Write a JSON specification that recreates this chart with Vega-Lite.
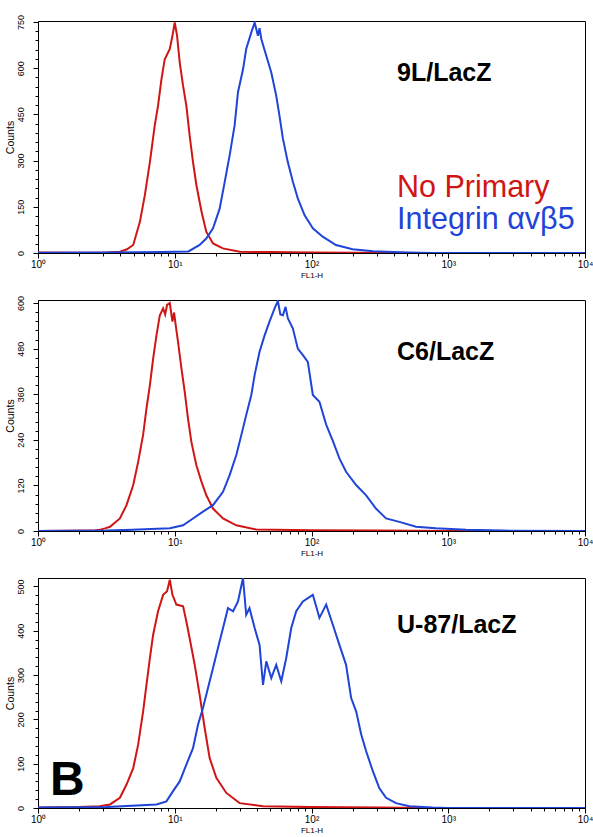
{
  "$schema": "https://vega.github.io/schema/vega-lite/v6.json",
  "background": "white",
  "padding": {"left": 4, "top": 13, "right": 0, "bottom": 0},
  "config": {
    "view": {"stroke": "black", "strokeWidth": 1},
    "font": "Liberation Sans",
    "axis": {"grid": false, "domainColor": "black", "tickColor": "black", "labelColor": "black", "titleColor": "black", "labelFont": "Liberation Sans", "titleFont": "Liberation Sans", "titleFontWeight": "normal"}
  },
  "datasets": {
    "p1": [
      {"series":"np","fl1":1,"count":2},{"series":"np","fl1":2,"count":1},{"series":"np","fl1":3.16,"count":2},{"series":"np","fl1":3.98,"count":4},{"series":"np","fl1":4.47,"count":12},{"series":"np","fl1":4.97,"count":26},{"series":"np","fl1":5.56,"count":101},{"series":"np","fl1":6.04,"count":187},{"series":"np","fl1":6.58,"count":295},{"series":"np","fl1":7.14,"count":414},{"series":"np","fl1":7.55,"count":478},{"series":"np","fl1":8.0,"count":565},{"series":"np","fl1":8.45,"count":629},{"series":"np","fl1":9.2,"count":662},{"series":"np","fl1":9.62,"count":705},{"series":"np","fl1":10,"count":748},{"series":"np","fl1":10.4,"count":705},{"series":"np","fl1":10.87,"count":619},{"series":"np","fl1":11.5,"count":543},{"series":"np","fl1":12.16,"count":478},{"series":"np","fl1":12.85,"count":381},{"series":"np","fl1":13.6,"count":295},{"series":"np","fl1":14.4,"count":220},{"series":"np","fl1":15.7,"count":134},{"series":"np","fl1":17,"count":69},{"series":"np","fl1":19.05,"count":31},{"series":"np","fl1":22.5,"count":15},{"series":"np","fl1":29.8,"count":4},{"series":"np","fl1":50,"count":3},{"series":"np","fl1":100,"count":2},{"series":"np","fl1":200,"count":1},{"series":"np","fl1":400,"count":1},{"series":"np","fl1":630,"count":0},{"series":"np","fl1":10000,"count":0},
      {"series":"ib","fl1":1,"count":1},{"series":"ib","fl1":3.16,"count":2},{"series":"ib","fl1":7.94,"count":3},{"series":"ib","fl1":12.6,"count":5},{"series":"ib","fl1":15.2,"count":26},{"series":"ib","fl1":17,"count":47},{"series":"ib","fl1":19.05,"count":80},{"series":"ib","fl1":21.3,"count":144},{"series":"ib","fl1":23.2,"count":231},{"series":"ib","fl1":25.2,"count":317},{"series":"ib","fl1":27.4,"count":414},{"series":"ib","fl1":29,"count":522},{"series":"ib","fl1":31.6,"count":597},{"series":"ib","fl1":33.3,"count":662},{"series":"ib","fl1":36.3,"count":716},{"series":"ib","fl1":38.4,"count":748},{"series":"ib","fl1":40.6,"count":705},{"series":"ib","fl1":41.7,"count":730},{"series":"ib","fl1":43,"count":694},{"series":"ib","fl1":46.7,"count":640},{"series":"ib","fl1":50.8,"count":586},{"series":"ib","fl1":55.2,"count":511},{"series":"ib","fl1":58.3,"count":446},{"series":"ib","fl1":61.8,"count":371},{"series":"ib","fl1":67.1,"count":295},{"series":"ib","fl1":73.1,"count":231},{"series":"ib","fl1":79.4,"count":177},{"series":"ib","fl1":88.9,"count":123},{"series":"ib","fl1":102.3,"count":80},{"series":"ib","fl1":120.8,"count":53},{"series":"ib","fl1":151,"count":26},{"series":"ib","fl1":200,"count":12},{"series":"ib","fl1":282,"count":6},{"series":"ib","fl1":500,"count":2},{"series":"ib","fl1":794,"count":0},{"series":"ib","fl1":10000,"count":0}
    ],
    "p2": [
      {"series":"np","fl1":1,"count":0},{"series":"np","fl1":2.51,"count":1},{"series":"np","fl1":2.82,"count":3},{"series":"np","fl1":3.09,"count":7},{"series":"np","fl1":3.36,"count":11},{"series":"np","fl1":3.97,"count":33},{"series":"np","fl1":4.44,"count":68},{"series":"np","fl1":4.97,"count":121},{"series":"np","fl1":5.4,"count":182},{"series":"np","fl1":5.87,"count":253},{"series":"np","fl1":6.21,"count":322},{"series":"np","fl1":6.58,"count":384},{"series":"np","fl1":6.95,"count":454},{"series":"np","fl1":7.35,"count":515},{"series":"np","fl1":7.78,"count":568},{"series":"np","fl1":8.22,"count":586},{"series":"np","fl1":8.51,"count":570},{"series":"np","fl1":8.79,"count":595},{"series":"np","fl1":9.2,"count":600},{"series":"np","fl1":9.62,"count":551},{"series":"np","fl1":9.89,"count":575},{"series":"np","fl1":10.16,"count":542},{"series":"np","fl1":10.57,"count":498},{"series":"np","fl1":11.19,"count":428},{"series":"np","fl1":11.83,"count":366},{"series":"np","fl1":12.5,"count":296},{"series":"np","fl1":13.24,"count":234},{"series":"np","fl1":14.39,"count":173},{"series":"np","fl1":15.67,"count":130},{"series":"np","fl1":17.02,"count":94},{"series":"np","fl1":19.05,"count":59},{"series":"np","fl1":22.54,"count":33},{"series":"np","fl1":28.18,"count":15},{"series":"np","fl1":39.45,"count":4},{"series":"np","fl1":100,"count":2},{"series":"np","fl1":316,"count":1},{"series":"np","fl1":1000,"count":0},{"series":"np","fl1":10000,"count":0},
      {"series":"ib","fl1":1,"count":0},{"series":"ib","fl1":3.16,"count":1},{"series":"ib","fl1":4.9,"count":3},{"series":"ib","fl1":9.2,"count":7},{"series":"ib","fl1":11.5,"count":15},{"series":"ib","fl1":13.6,"count":33},{"series":"ib","fl1":16.1,"count":51},{"series":"ib","fl1":19.05,"count":68},{"series":"ib","fl1":22.54,"count":103},{"series":"ib","fl1":25.2,"count":147},{"series":"ib","fl1":28.2,"count":200},{"series":"ib","fl1":30.7,"count":253},{"series":"ib","fl1":33.3,"count":305},{"series":"ib","fl1":36.3,"count":358},{"series":"ib","fl1":38.4,"count":411},{"series":"ib","fl1":41.7,"count":472},{"series":"ib","fl1":45.4,"count":515},{"series":"ib","fl1":49.3,"count":551},{"series":"ib","fl1":53.7,"count":586},{"series":"ib","fl1":56.8,"count":605},{"series":"ib","fl1":59.2,"count":570},{"series":"ib","fl1":61.8,"count":568},{"series":"ib","fl1":64.6,"count":590},{"series":"ib","fl1":67.1,"count":560},{"series":"ib","fl1":73.1,"count":533},{"series":"ib","fl1":79.4,"count":480},{"series":"ib","fl1":86.5,"count":463},{"series":"ib","fl1":94,"count":445},{"series":"ib","fl1":102.3,"count":358},{"series":"ib","fl1":114.3,"count":340},{"series":"ib","fl1":128,"count":280},{"series":"ib","fl1":143,"count":238},{"series":"ib","fl1":160,"count":191},{"series":"ib","fl1":179,"count":156},{"series":"ib","fl1":212,"count":121},{"series":"ib","fl1":251,"count":94},{"series":"ib","fl1":296,"count":59},{"series":"ib","fl1":351,"count":33},{"series":"ib","fl1":439,"count":24},{"series":"ib","fl1":581,"count":11},{"series":"ib","fl1":813,"count":7},{"series":"ib","fl1":1349,"count":3},{"series":"ib","fl1":2512,"count":1},{"series":"ib","fl1":10000,"count":0}
    ],
    "p3": [
      {"series":"np","fl1":1,"count":1},{"series":"np","fl1":2,"count":2},{"series":"np","fl1":2.82,"count":4},{"series":"np","fl1":3.36,"count":8},{"series":"np","fl1":3.97,"count":23},{"series":"np","fl1":4.44,"count":53},{"series":"np","fl1":4.97,"count":90},{"series":"np","fl1":5.4,"count":143},{"series":"np","fl1":5.87,"count":218},{"series":"np","fl1":6.21,"count":278},{"series":"np","fl1":6.58,"count":338},{"series":"np","fl1":6.95,"count":391},{"series":"np","fl1":7.55,"count":444},{"series":"np","fl1":8.22,"count":481},{"series":"np","fl1":8.79,"count":489},{"series":"np","fl1":9.2,"count":515},{"series":"np","fl1":9.62,"count":481},{"series":"np","fl1":10.28,"count":459},{"series":"np","fl1":11.51,"count":455},{"series":"np","fl1":12.16,"count":421},{"series":"np","fl1":12.85,"count":383},{"series":"np","fl1":14,"count":323},{"series":"np","fl1":15.2,"count":256},{"series":"np","fl1":16.56,"count":180},{"series":"np","fl1":17.99,"count":113},{"series":"np","fl1":20.14,"count":68},{"series":"np","fl1":23.82,"count":34},{"series":"np","fl1":29.8,"count":11},{"series":"np","fl1":44.2,"count":4},{"series":"np","fl1":100,"count":2},{"series":"np","fl1":316,"count":1},{"series":"np","fl1":631,"count":0},{"series":"np","fl1":10000,"count":0},
      {"series":"ib","fl1":1,"count":1},{"series":"ib","fl1":3.16,"count":2},{"series":"ib","fl1":7.35,"count":8},{"series":"ib","fl1":8.69,"count":15},{"series":"ib","fl1":9.72,"count":38},{"series":"ib","fl1":10.87,"count":60},{"series":"ib","fl1":12.16,"count":98},{"series":"ib","fl1":13.6,"count":135},{"series":"ib","fl1":14.79,"count":188},{"series":"ib","fl1":16.1,"count":226},{"series":"ib","fl1":17.5,"count":271},{"series":"ib","fl1":19.05,"count":316},{"series":"ib","fl1":20.7,"count":361},{"series":"ib","fl1":22.54,"count":406},{"series":"ib","fl1":24.5,"count":451},{"series":"ib","fl1":26.7,"count":444},{"series":"ib","fl1":29,"count":466},{"series":"ib","fl1":31.55,"count":519},{"series":"ib","fl1":33.3,"count":436},{"series":"ib","fl1":35.2,"count":451},{"series":"ib","fl1":38.4,"count":406},{"series":"ib","fl1":41.7,"count":368},{"series":"ib","fl1":44.2,"count":278},{"series":"ib","fl1":46.7,"count":331},{"series":"ib","fl1":50.8,"count":293},{"series":"ib","fl1":55.2,"count":323},{"series":"ib","fl1":60.1,"count":286},{"series":"ib","fl1":65.3,"count":338},{"series":"ib","fl1":71.1,"count":406},{"series":"ib","fl1":77.3,"count":444},{"series":"ib","fl1":86.5,"count":466},{"series":"ib","fl1":102.3,"count":481},{"series":"ib","fl1":114.3,"count":429},{"series":"ib","fl1":128,"count":459},{"series":"ib","fl1":143,"count":414},{"series":"ib","fl1":160,"count":368},{"series":"ib","fl1":179,"count":323},{"series":"ib","fl1":195,"count":248},{"series":"ib","fl1":212,"count":218},{"series":"ib","fl1":231,"count":166},{"series":"ib","fl1":251,"count":128},{"series":"ib","fl1":281,"count":83},{"series":"ib","fl1":313,"count":45},{"series":"ib","fl1":351,"count":23},{"series":"ib","fl1":415,"count":11},{"series":"ib","fl1":519,"count":4},{"series":"ib","fl1":767,"count":1},{"series":"ib","fl1":1000,"count":0},{"series":"ib","fl1":10000,"count":0}
    ]
  },
  "bounds": "flush",
  "spacing": 47,
  "vconcat": [
    {
      "width": 547, "height": 232,
      "resolve": {"axis": {"y": "independent"}},
      "layer": [
        {
          "data": {"name": "p1"},
          "mark": {"type": "line", "strokeWidth": 2, "clip": true},
          "encoding": {
            "x": {"field": "fl1", "type": "quantitative", "scale": {"type": "log", "domain": [1, 10000]},
              "axis": {"title": "FL1-H", "titleFontSize": 8, "titlePadding": 2, "values": [1,2,3,4,5,6,7,8,9,10,20,30,40,50,60,70,80,90,100,200,300,400,500,600,700,800,900,1000,2000,3000,4000,5000,6000,7000,8000,9000,10000],
                "labelExpr": "datum.value == 1 ? '10⁰' : datum.value == 10 ? '10¹' : datum.value == 100 ? '10²' : datum.value == 1000 ? '10³' : datum.value == 10000 ? '10⁴' : ''",
                "labelFontSize": 10, "labelFlush": false, "labelOverlap": false, "labelPadding": 1,
                "tickSize": {"condition": {"test": "indexof([1,10,100,1000,10000], datum.value) >= 0", "value": 5}, "value": 3}}},
            "y": {"field": "count", "type": "quantitative", "scale": {"domain": [0, 753], "nice": false},
              "axis": {"orient": "left", "title": "Counts", "titleFontSize": 10.5, "titlePadding": 1, "values": [0,150,300,450,600,750],
                "labelAngle": -90, "labelAlign": "center", "labelBaseline": "bottom", "labelFontSize": 9, "labelOverlap": false, "labelPadding": 8, "tickSize": 5}},
            "color": {"field": "series", "type": "nominal", "scale": {"domain": ["np", "ib"], "range": ["#d01515", "#1f44d8"]}, "legend": null}
          }
        },
        {
          "data": {"values": [{"label": "9L/LacZ", "fl1": 422, "count": 557}]},
          "mark": {"type": "text", "align": "left", "baseline": "alphabetic", "fontSize": 25, "fontWeight": "bold", "color": "black"},
          "encoding": {"x": {"field": "fl1", "type": "quantitative"},
            "y": {"field": "count", "type": "quantitative", "axis": {"orient": "left", "title": null, "labels": false, "domain": false, "tickSize": 3, "values": [30,60,90,120,180,210,240,270,330,360,390,420,480,510,540,570,630,660,690,720]}},
            "text": {"field": "label"}}
        },
        {
          "data": {"values": [{"series": "np", "label": "No Primary", "fl1": 422, "count": 182}, {"series": "ib", "label": "Integrin αvβ5", "fl1": 422, "count": 79}]},
          "mark": {"type": "text", "align": "left", "baseline": "alphabetic", "fontSize": 30.5},
          "encoding": {"x": {"field": "fl1", "type": "quantitative"}, "y": {"field": "count", "type": "quantitative", "axis": null}, "text": {"field": "label"}, "color": {"field": "series", "type": "nominal", "legend": null}}
        }
      ]
    },
    {
      "width": 547, "height": 231,
      "resolve": {"axis": {"y": "independent"}},
      "layer": [
        {
          "data": {"name": "p2"},
          "mark": {"type": "line", "strokeWidth": 2, "clip": true},
          "encoding": {
            "x": {"field": "fl1", "type": "quantitative", "scale": {"type": "log", "domain": [1, 10000]},
              "axis": {"title": "FL1-H", "titleFontSize": 8, "titlePadding": 2, "values": [1,2,3,4,5,6,7,8,9,10,20,30,40,50,60,70,80,90,100,200,300,400,500,600,700,800,900,1000,2000,3000,4000,5000,6000,7000,8000,9000,10000],
                "labelExpr": "datum.value == 1 ? '10⁰' : datum.value == 10 ? '10¹' : datum.value == 100 ? '10²' : datum.value == 1000 ? '10³' : datum.value == 10000 ? '10⁴' : ''",
                "labelFontSize": 10, "labelFlush": false, "labelOverlap": false, "labelPadding": 1,
                "tickSize": {"condition": {"test": "indexof([1,10,100,1000,10000], datum.value) >= 0", "value": 5}, "value": 3}}},
            "y": {"field": "count", "type": "quantitative", "scale": {"domain": [0, 608], "nice": false},
              "axis": {"orient": "left", "title": "Counts", "titleFontSize": 10.5, "titlePadding": 1, "values": [0,120,240,360,480,600],
                "labelAngle": -90, "labelAlign": "center", "labelBaseline": "bottom", "labelFontSize": 9, "labelOverlap": false, "labelPadding": 8, "tickSize": 5}},
            "color": {"field": "series", "type": "nominal", "scale": {"domain": ["np", "ib"], "range": ["#d01515", "#1f44d8"]}, "legend": null}
          }
        },
        {
          "data": {"values": [{"label": "C6/LacZ", "fl1": 422, "count": 449}]},
          "mark": {"type": "text", "align": "left", "baseline": "alphabetic", "fontSize": 25, "fontWeight": "bold", "color": "black"},
          "encoding": {"x": {"field": "fl1", "type": "quantitative"},
            "y": {"field": "count", "type": "quantitative", "axis": {"orient": "left", "title": null, "labels": false, "domain": false, "tickSize": 3, "values": [24,48,72,96,144,168,192,216,264,288,312,336,384,408,432,456,504,528,552,576]}},
            "text": {"field": "label"}}
        }
      ]
    },
    {
      "width": 547, "height": 230,
      "resolve": {"axis": {"y": "independent"}},
      "layer": [
        {
          "data": {"name": "p3"},
          "mark": {"type": "line", "strokeWidth": 2, "clip": true},
          "encoding": {
            "x": {"field": "fl1", "type": "quantitative", "scale": {"type": "log", "domain": [1, 10000]},
              "axis": {"title": "FL1-H", "titleFontSize": 8, "titlePadding": 2, "values": [1,2,3,4,5,6,7,8,9,10,20,30,40,50,60,70,80,90,100,200,300,400,500,600,700,800,900,1000,2000,3000,4000,5000,6000,7000,8000,9000,10000],
                "labelExpr": "datum.value == 1 ? '10⁰' : datum.value == 10 ? '10¹' : datum.value == 100 ? '10²' : datum.value == 1000 ? '10³' : datum.value == 10000 ? '10⁴' : ''",
                "labelFontSize": 10, "labelFlush": false, "labelOverlap": false, "labelPadding": 1,
                "tickSize": {"condition": {"test": "indexof([1,10,100,1000,10000], datum.value) >= 0", "value": 5}, "value": 3}}},
            "y": {"field": "count", "type": "quantitative", "scale": {"domain": [0, 519], "nice": false},
              "axis": {"orient": "left", "title": "Counts", "titleFontSize": 10.5, "titlePadding": 1, "values": [0,100,200,300,400,500],
                "labelAngle": -90, "labelAlign": "center", "labelBaseline": "bottom", "labelFontSize": 9, "labelOverlap": false, "labelPadding": 8, "tickSize": 5}},
            "color": {"field": "series", "type": "nominal", "scale": {"domain": ["np", "ib"], "range": ["#d01515", "#1f44d8"]}, "legend": null}
          }
        },
        {
          "data": {"values": [{"label": "U-87/LacZ", "fl1": 422, "count": 394}]},
          "mark": {"type": "text", "align": "left", "baseline": "alphabetic", "fontSize": 25, "fontWeight": "bold", "color": "black"},
          "encoding": {"x": {"field": "fl1", "type": "quantitative"},
            "y": {"field": "count", "type": "quantitative", "axis": {"orient": "left", "title": null, "labels": false, "domain": false, "tickSize": 3, "values": [20,40,60,80,120,140,160,180,220,240,260,280,320,340,360,380,420,440,460,480]}},
            "text": {"field": "label"}}
        },
        {
          "data": {"values": [{"label": "B", "fl1": 1.224, "count": 29}]},
          "mark": {"type": "text", "align": "left", "baseline": "alphabetic", "fontSize": 48, "fontWeight": "bold", "color": "black"},
          "encoding": {"x": {"field": "fl1", "type": "quantitative"}, "y": {"field": "count", "type": "quantitative", "axis": null}, "text": {"field": "label"}}
        }
      ]
    }
  ]
}
